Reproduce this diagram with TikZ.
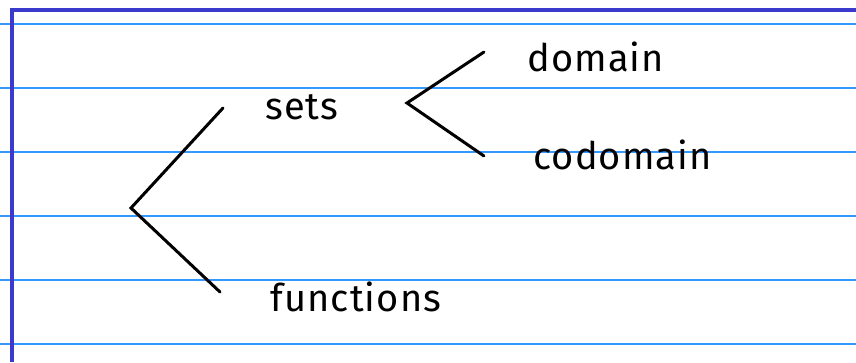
\documentclass[tikz,border=0pt]{standalone}
\usepackage{fontspec}
\setmainfont{Fira Sans}[LetterSpace=3]
\usepackage{tikz}
\usetikzlibrary{positioning}

\definecolor{ruleblue}{RGB}{51,153,255}
\definecolor{marginblue}{RGB}{58,58,205}

\tikzset{
    word/.style={anchor=base west, inner sep=0pt, font=\fontsize{38}{42}\selectfont},
    branch/.style={draw=black, line width=3pt, line cap=round, line join=miter}
}

\begin{document}
\begin{tikzpicture}[x=1pt, y=-1pt]
        \useasboundingbox (0,0) rectangle (856,362);

        % ruled paper
        \foreach \y in {24, 88, 152, 216, 280, 344}
        \draw[ruleblue, line width=1.3pt] (0,\y) -- (856,\y);
        \draw[marginblue, line width=3.5pt] (12,362) -- (12,10) -- (856,10);

        % words
        \node[word] (sets) at (265,119) {sets};
        \node[word] (functions) at (270,311) {functions};
        \node[word] (domain) at (527,71) {domain};
        \node[word] (codomain) at (533,169) {codomain};

        % bracket corners and ends
        \coordinate (root) at (131,208);
        \coordinate (sets-in) at (223,108);
        \coordinate (functions-in) at (220,292);
        \coordinate (sets-out) at (407,103);
        \coordinate (domain-in) at (484,52);
        \coordinate (codomain-in) at (484,156);

        \draw[branch] (sets-in) -- (root) -- (functions-in);
        \draw[branch] (domain-in) -- (sets-out) -- (codomain-in);

    \end{tikzpicture}
\end{document}
